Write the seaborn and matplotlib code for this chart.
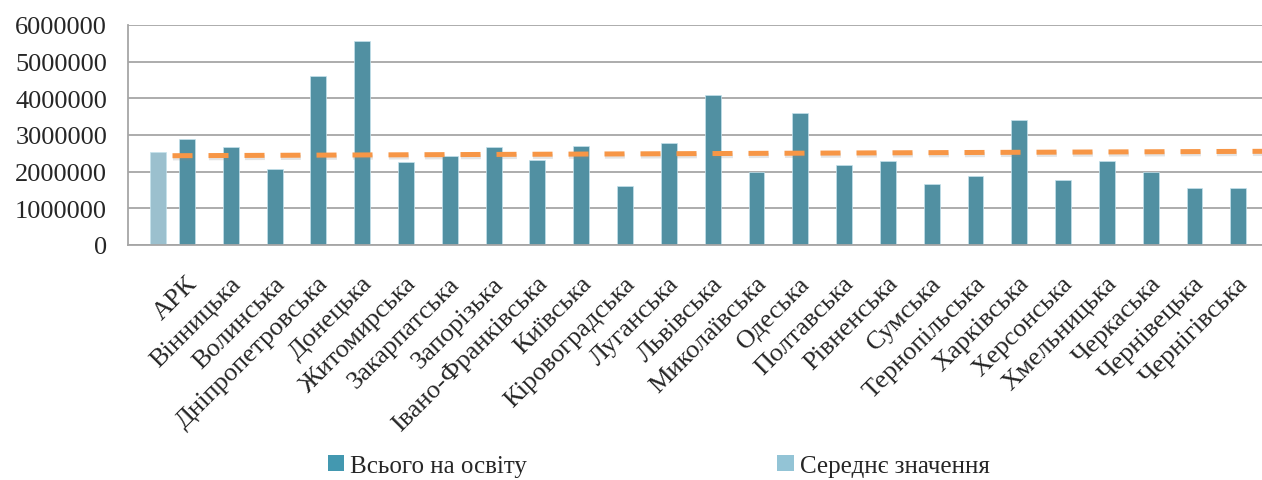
import numpy as np
import pandas as pd
import seaborn as sns
import matplotlib.pyplot as plt
from matplotlib.patches import Patch
from matplotlib.transforms import ScaledTranslation
import matplotlib.patheffects as pe

# Regions (categories on the x axis)
regions = ["АРК", "Вінницька", "Волинська", "Дніпропетровська", "Донецька",
           "Житомирська", "Закарпатська", "Запорізька", "Івано-Франківська",
           "Київська", "Кіровоградська", "Луганська", "Львівська",
           "Миколаївська", "Одеська", "Полтавська", "Рівненська", "Сумська",
           "Тернопільська", "Харківська", "Херсонська", "Хмельницька",
           "Черкаська", "Чернівецька", "Чернігівська"]

# Total spending on education per region
total_edu = [2890000, 2685000, 2085000, 4605000, 5560000,
             2265000, 2440000, 2685000, 2330000,
             2710000, 1620000, 2785000, 4080000,
             1995000, 3595000, 2195000, 2285000, 1655000,
             1875000, 3415000, 1765000, 2285000,
             1995000, 1555000, 1555000]

# Average value (shown only once, at the first category)
avg_region = ["АРК"]
avg_value = [2545000]

# Trend line value at the first and the last category
trend_values = [2435000, 2551000]

series_total = "Всього на освіту"
series_avg = "Середнє значення"

c_total = "#4398B0"
c_avg = "#93C4D6"
c_trend = "#F79646"
c_grid = "#A6A6A6"

df = pd.concat([
    pd.DataFrame({"region": regions, "value": total_edu, "series": series_total}),
    pd.DataFrame({"region": avg_region, "value": avg_value, "series": series_avg}),
], ignore_index=True)

sns.set_style("white")
plt.rcParams["font.family"] = ["Liberation Serif", "DejaVu Serif"]

fig = plt.figure(figsize=(12.62, 4.81), dpi=100)
ax = fig.add_axes([128 / 1262, 1 - 246 / 481, 1 - 128 / 1262, 220 / 481])

sns.barplot(data=df, x="region", y="value", hue="series", order=regions,
            hue_order=[series_avg, series_total],
            palette={series_total: c_total, series_avg: c_avg},
            width=1.32, gap=0.45, errorbar=None, legend=False,
            edgecolor="#c4e2ec", linewidth=0.5, ax=ax)

# linear trend line, running from the first category to the right edge
x_right = 24.87
n = len(regions)
slope = (trend_values[1] - trend_values[0]) / (n - 1)
ax.plot([0, x_right], [trend_values[0], trend_values[0] + slope * x_right],
        color=c_trend, lw=3.6, linestyle=(0, (4.0, 3.2)),
        dash_capstyle="butt", zorder=4,
        path_effects=[pe.SimpleLineShadow(offset=(0.3, -1.6), shadow_color="#888888", alpha=0.22),
                      pe.Normal()])

ax.set_xlim(-1.016, x_right)
ax.set_ylim(0, 6000000)
ax.set_yticks(np.arange(0, 6000001, 1000000))
ax.set_yticklabels([f"{int(v)}" for v in np.arange(0, 6000001, 1000000)])
ax.yaxis.grid(True, color=c_grid, lw=1.3)
ax.set_axisbelow(True)
ax.set_xlabel("")
ax.set_ylabel("")

for side in ["top", "right"]:
    ax.spines[side].set_visible(False)
for side in ["left", "bottom"]:
    ax.spines[side].set_color(c_grid)
    ax.spines[side].set_linewidth(1.3)

ax.tick_params(axis="y", length=0, pad=15, labelsize=19)
ax.tick_params(axis="x", length=0, pad=25, labelsize=19)

shift = ScaledTranslation(0.21, 0, fig.dpi_scale_trans)
for lab in ax.get_xticklabels():
    lab.set_rotation(45)
    lab.set_ha("right")
    lab.set_va("center")
    lab.set_rotation_mode("anchor")
    lab.set_transform(lab.get_transform() + shift)

handles = [Patch(facecolor=c_total, edgecolor="none"),
           Patch(facecolor=c_avg, edgecolor="none")]
fig.legend(handles, [series_total, series_avg], loc="center",
           bbox_to_anchor=(0.522, 0.03), ncol=2, frameon=False, fontsize=18,
           handlelength=0.65, handleheight=0.65, handletextpad=0.25,
           columnspacing=10.0, borderpad=0)

fig.savefig("out.png", dpi=100)
